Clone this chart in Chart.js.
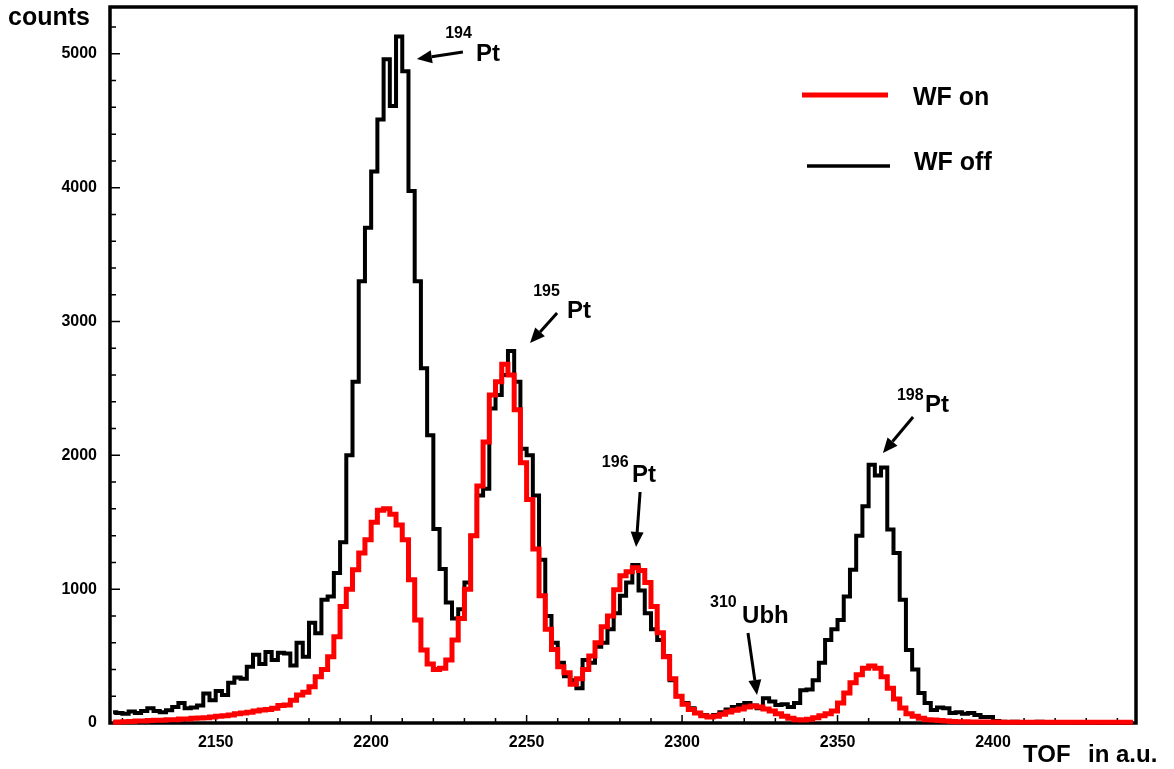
<!DOCTYPE html>
<html>
<head>
<meta charset="utf-8">
<title>TOF spectrum</title>
<script src="https://cdn.jsdelivr.net/npm/chart.js@4.4.1/dist/chart.umd.min.js"></script>
<style>
  html, body { margin: 0; padding: 0; background: #fff; }
  canvas { display: block; }
</style>
</head>
<body>
<canvas id="tofChart" width="1174" height="769"></canvas>
<script>
// histogram bins are 2 a.u. wide, the first one starts at TOF 2116
const binStart = 2116;
const binWidth = 2;

// counts per bin, wien filter switched on
const wfOn = [
  5, 8, 10, 12, 15, 15, 18, 20, 20, 25,
  25, 30, 30, 35, 37, 40, 45, 50, 55, 60,
  70, 75, 80, 90, 97, 100, 110, 130, 135, 170,
  210, 230, 270, 345, 400, 495, 645, 870, 1000, 1145,
  1270, 1370, 1500, 1590, 1600, 1560, 1480, 1370, 1070, 770,
  545, 440, 400, 410, 470, 620, 780, 1000, 1400, 1770,
  2100, 2450, 2550, 2680, 2600, 2340, 1945, 1670, 1300, 950,
  700, 550, 420, 375, 290, 330, 400, 500, 600, 720,
  800, 995, 1100, 1130, 1160, 1140, 1050, 870, 675, 495,
  330, 200, 140, 100, 75, 55, 45, 50, 65, 82,
  95, 105, 120, 127, 120, 105, 90, 70, 50, 35,
  25, 22, 28, 40, 55, 70, 90, 150, 225, 300,
  360, 410, 425, 410, 345, 260, 180, 112, 70, 50,
  35, 25, 22, 18, 15, 12, 10, 10, 8, 8,
  8, 7, 7, 6, 6, 6, 5, 5, 5, 5,
  5, 5, 5, 5, 5, 5, 5, 5, 5, 5,
  5, 5, 5, 5, 5
];

// counts per bin, wien filter switched off
const wfOff = [
  80, 75, 70, 85, 75, 90, 110, 90, 80, 95,
  120, 150, 110, 115, 130, 220, 170, 240, 210, 300,
  340, 330, 420, 510, 440, 530, 470, 525, 520, 430,
  600, 495, 750, 670, 920, 945, 1120, 1350, 2000, 2550,
  3300, 3700, 4120, 4510, 4960, 4610, 5130, 4870, 3975, 3300,
  2650, 2150, 1450, 1150, 900, 780, 850, 1050, 1400, 1700,
  1750, 2350, 2450, 2600, 2780, 2550, 2050, 2000, 1700, 1220,
  800, 600, 450, 350, 320, 260, 470, 450, 570, 600,
  700, 820, 950, 1050, 1180, 990, 820, 700, 620, 500,
  320, 200, 150, 110, 75, 60, 45, 60, 80, 100,
  120, 135, 150, 130, 110, 185, 160, 135, 140, 120,
  150, 245, 250, 320, 450, 620, 700, 770, 945, 1145,
  1400, 1620, 1930, 1850, 1910, 1445, 1270, 920, 545, 400,
  225, 150, 97, 115, 110, 75, 80, 70, 75, 60,
  45, 45, 15, 10, 8, 10, 5, 8, 5, 10,
  5, 5, 8, 5, 5, 3, 5, 3, 3, 2,
  3, 2, 2, 2, 2
];

const xTicks = [2150, 2200, 2250, 2300, 2350, 2400];
const yTicks = [0, 1000, 2000, 3000, 4000, 5000];

// isotope labels: [tof, counts] for the mass number, the symbol, arrow tail and arrow tip
const peakLabels = [
  { mass: '194', sym: 'Pt',  massAt: [2223.8, 5118], symAt: [2233.7, 4947], from: [2229.5, 5014], to: [2214.7, 4961] },
  { mass: '195', sym: 'Pt',  massAt: [2252.1, 3191], symAt: [2263.0, 3026], from: [2259.8, 3064], to: [2251.1, 2839] },
  { mass: '196', sym: 'Pt',  massAt: [2274.2, 1913], symAt: [2283.9, 1801], from: [2286.5, 1726], to: [2285.2, 1315] },
  { mass: '310', sym: 'Ubh', massAt: [2309.0, 867],  symAt: [2319.3, 747],  from: [2321.2, 672],  to: [2324.1, 209] },
  { mass: '198', sym: 'Pt',  massAt: [2369.1, 2413], symAt: [2378.1, 2324], from: [2374.3, 2287], to: [2364.6, 2017] }
];

const FONT = "'Liberation Sans', Arial, sans-serif";

function toPoints(values) {
  return values.map((v, i) => ({ x: binStart + binWidth * i + binWidth / 2, y: v }));
}

function drawArrow(ctx, x1, y1, x2, y2) {
  const ang = Math.atan2(y2 - y1, x2 - x1);
  const head = 15, half = 6.5;
  const bx = x2 - head * Math.cos(ang), by = y2 - head * Math.sin(ang);
  ctx.lineWidth = 3;
  ctx.beginPath();
  ctx.moveTo(x1, y1);
  ctx.lineTo(bx, by);
  ctx.stroke();
  ctx.beginPath();
  ctx.moveTo(x2, y2);
  ctx.lineTo(bx + half * Math.sin(ang), by - half * Math.cos(ang));
  ctx.lineTo(bx - half * Math.sin(ang), by + half * Math.cos(ang));
  ctx.closePath();
  ctx.fill();
}

// box and inward tick marks
const frame = {
  id: 'frame',
  beforeDatasetsDraw(chart) {
    const { ctx, chartArea: a, scales: { x, y } } = chart;
    ctx.save();
    ctx.strokeStyle = '#000';
    ctx.lineWidth = 1.5;
    ctx.beginPath();
    for (let v = 2120; v < x.max; v += 10) {
      const px = x.getPixelForValue(v);
      const len = v % 50 === 0 ? 8 : 5;
      ctx.moveTo(px, a.bottom);
      ctx.lineTo(px, a.bottom - len);
    }
    for (let v = 200; v < y.max; v += 200) {
      const py = y.getPixelForValue(v);
      const len = v % 1000 === 0 ? 10 : 6;
      ctx.moveTo(a.left, py);
      ctx.lineTo(a.left + len, py);
    }
    ctx.stroke();
    ctx.lineWidth = 3.5;
    ctx.strokeRect(a.left, a.top, a.right - a.left, a.bottom - a.top);
    ctx.restore();
  }
};

// axis titles, legend and isotope arrows
const labels = {
  id: 'labels',
  afterDatasetsDraw(chart) {
    const { ctx, scales: { x, y } } = chart;
    const px = v => x.getPixelForValue(v);
    const py = v => y.getPixelForValue(v);
    ctx.save();
    ctx.fillStyle = '#000';
    ctx.strokeStyle = '#000';
    ctx.textAlign = 'left';
    ctx.textBaseline = 'alphabetic';

    ctx.font = `bold 25px ${FONT}`;
    ctx.fillText('counts', 8, 25);
    ctx.font = `bold 24px ${FONT}`;
    ctx.fillText('TOF', 1023, 762);
    ctx.fillText('in a.u.', 1088, 762);

    // legend
    ctx.lineWidth = 5;
    ctx.strokeStyle = '#ff0000';
    ctx.beginPath();
    ctx.moveTo(802, 95);
    ctx.lineTo(888, 95);
    ctx.stroke();
    ctx.lineWidth = 3.5;
    ctx.strokeStyle = '#000';
    ctx.beginPath();
    ctx.moveTo(807, 166);
    ctx.lineTo(890, 166);
    ctx.stroke();
    ctx.font = `bold 25px ${FONT}`;
    ctx.fillText('WF on', 913, 105);
    ctx.fillText('WF off', 914, 170);

    peakLabels.forEach(p => {
      ctx.font = `bold 16px ${FONT}`;
      ctx.fillText(p.mass, px(p.massAt[0]), py(p.massAt[1]));
      ctx.font = `bold 24px ${FONT}`;
      ctx.fillText(p.sym, px(p.symAt[0]), py(p.symAt[1]));
      drawArrow(ctx, px(p.from[0]), py(p.from[1]), px(p.to[0]), py(p.to[1]));
    });
    ctx.restore();
  }
};

const tickFont = { family: FONT, size: 16, weight: 'bold' };

// keep the plot box fixed: no extra room reserved for edge labels
function noEdgePadding(s) {
  s.paddingTop = 0;
  s.paddingBottom = 0;
  s.paddingLeft = 0;
  s.paddingRight = 0;
}

new Chart(document.getElementById('tofChart'), {
  type: 'line',
  data: {
    datasets: [
      {
        label: 'WF on',
        data: toPoints(wfOn),
        borderColor: '#ff0000',
        borderWidth: 5,
        stepped: 'middle',
        pointRadius: 0,
        fill: false,
        clip: 6
      },
      {
        label: 'WF off',
        data: toPoints(wfOff),
        borderColor: '#000000',
        borderWidth: 4,
        stepped: 'middle',
        pointRadius: 0,
        fill: false,
        clip: 6
      }
    ]
  },
  options: {
    responsive: false,
    animation: false,
    layout: { padding: { top: 7, right: 38, left: 0, bottom: 0 } },
    plugins: {
      legend: { display: false },
      tooltip: { enabled: false }
    },
    scales: {
      x: {
        type: 'linear',
        min: 2116,
        max: 2446,
        grid: { display: false, drawTicks: false },
        border: { display: false },
        afterBuildTicks: s => { s.ticks = xTicks.map(v => ({ value: v })); },
        afterFit: s => { s.height = 46; noEdgePadding(s); },
        ticks: {
          padding: 10,
          color: '#000',
          font: tickFont,
          maxRotation: 0,
          autoSkip: false,
          callback: v => String(v)
        }
      },
      y: {
        type: 'linear',
        min: 0,
        max: 5350,
        grid: { display: false, drawTicks: false },
        border: { display: false },
        afterBuildTicks: s => { s.ticks = yTicks.map(v => ({ value: v })); },
        afterFit: s => { s.width = 110; noEdgePadding(s); },
        ticks: {
          padding: 13,
          color: '#000',
          font: tickFont,
          autoSkip: false,
          callback: v => String(v)
        }
      }
    }
  },
  plugins: [frame, labels]
});
</script>
</body>
</html>
